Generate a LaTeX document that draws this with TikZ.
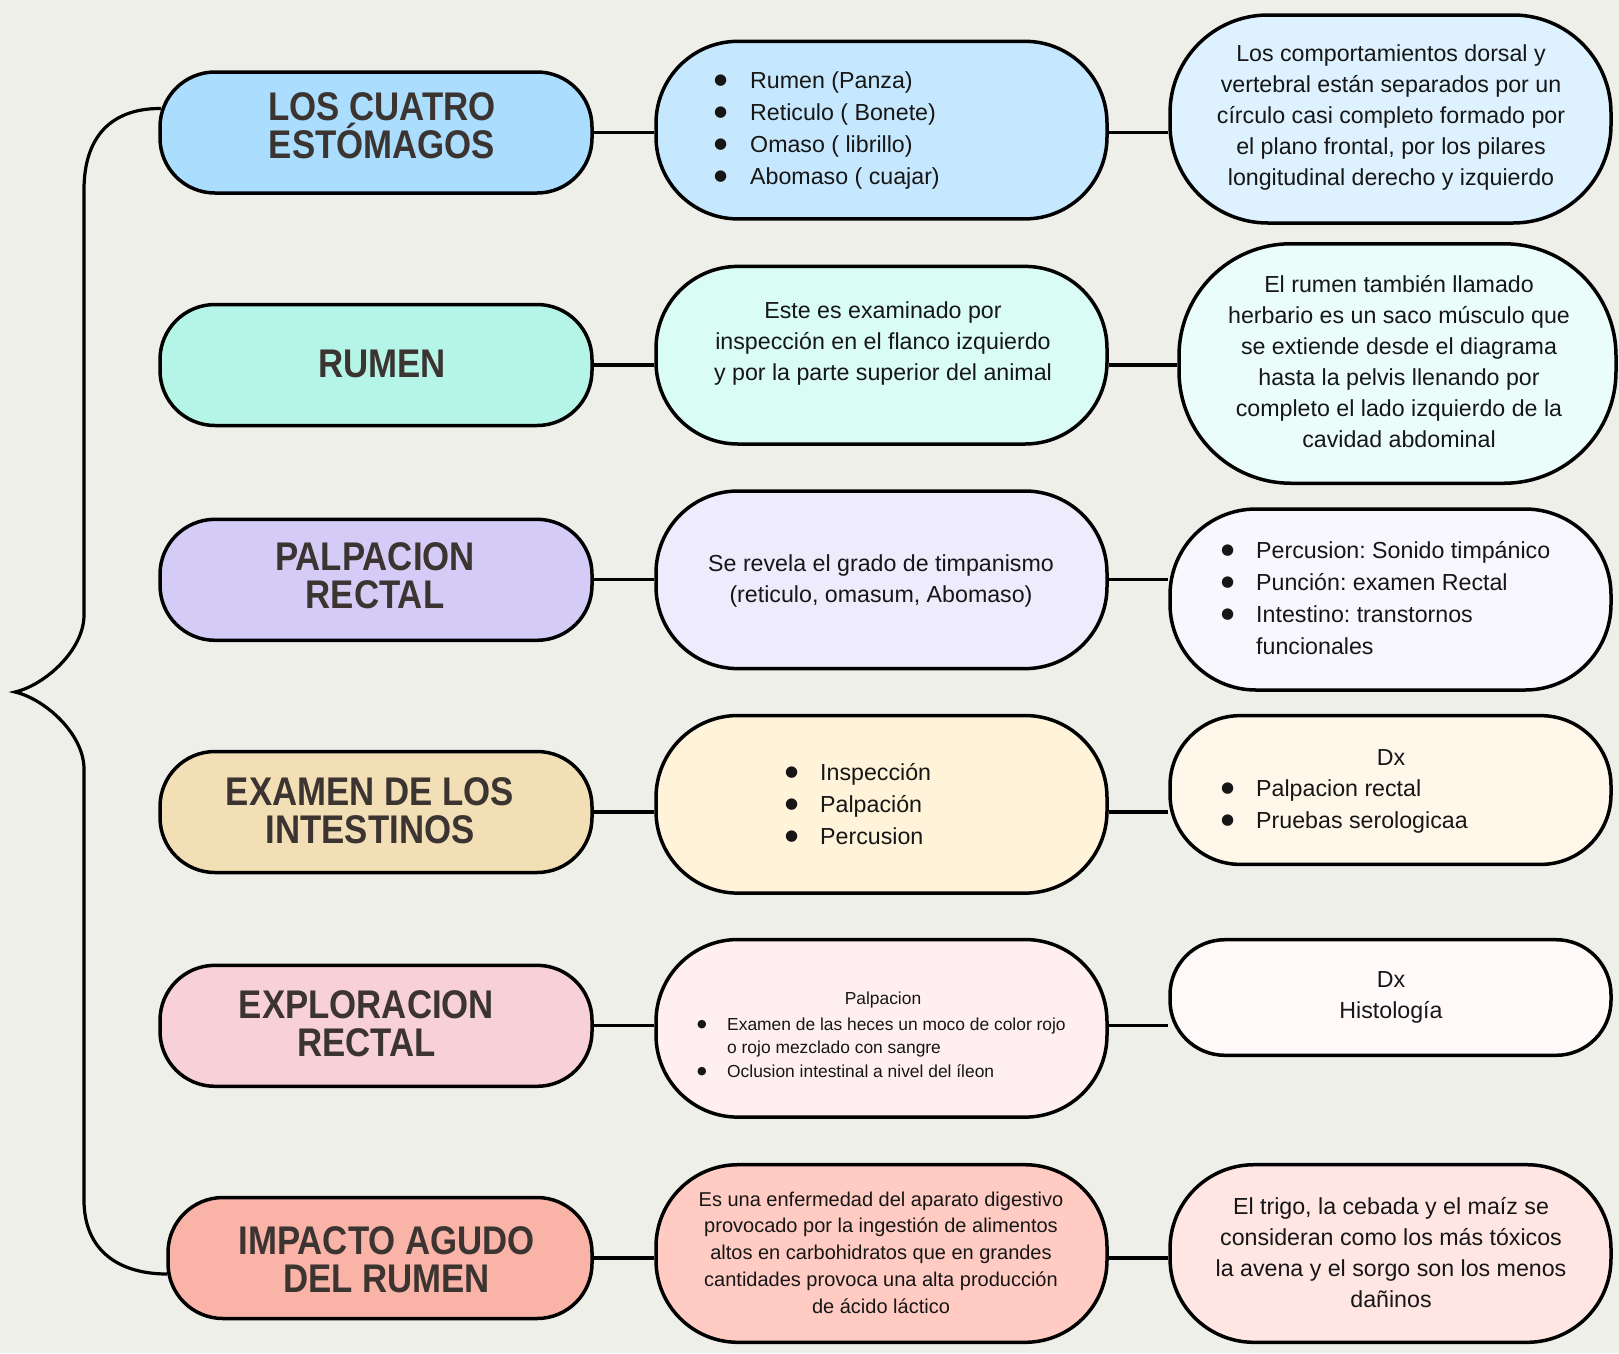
\documentclass[tikz,border=0pt]{standalone}
\usepackage{fontspec}
\setmainfont{Liberation Sans}
\newfontfamily\titlefont{Liberation Sans}[FakeStretch=0.87]
\newfontfamily\symfont{DejaVu Sans}
\usetikzlibrary{calc}
\pgfdeclarelayer{bg}
\pgfdeclarelayer{edges}
\pgfsetlayers{bg,edges,main}
\definecolor{bgc}{HTML}{EFEFEA}
\definecolor{titlec}{HTML}{3B3431}
\definecolor{bodyc}{HTML}{161616}
\definecolor{ta}{HTML}{AADDFE}
\definecolor{ma}{HTML}{C6E8FF}
\definecolor{ra}{HTML}{DDF1FF}
\definecolor{tb}{HTML}{B5F5E8}
\definecolor{mb}{HTML}{D9FCF4}
\definecolor{rb}{HTML}{EBFDFB}
\definecolor{tc}{HTML}{D4CCF7}
\definecolor{mc}{HTML}{EEEBFD}
\definecolor{rc}{HTML}{F8F7FE}
\definecolor{td}{HTML}{F3DFB5}
\definecolor{md}{HTML}{FFF3DA}
\definecolor{rd}{HTML}{FFF7EA}
\definecolor{te}{HTML}{F8D1D8}
\definecolor{me}{HTML}{FFEFF0}
\definecolor{re}{HTML}{FFF9F9}
\definecolor{tf}{HTML}{F9B3A7}
\definecolor{mf}{HTML}{FFCBC2}
\definecolor{rf}{HTML}{FFE6E3}
\frenchspacing
% bullet: width of box, size of glyph, raise
\newcommand\mybul[3]{\makebox[#1][l]{\hspace*{-1pt}\smash{\raisebox{#3}{\symfont\fontsize{#2}{#2}\selectfont ●}}}}
\tikzset{
  box/.style={draw=black, line width=3.5pt, inner sep=0pt, shape=rectangle},
  ttlbox/.style={box, minimum width=432pt, minimum height=121pt, rounded corners=55pt},
  midbox/.style={box, minimum width=451pt, minimum height=177.6pt, rounded corners=82pt},
  conn/.style={draw=black, line width=3.2pt},
  ttl/.style={font=\titlefont\bfseries\fontsize{40}{37.7}\selectfont, text=titlec, align=center, inner sep=0pt},
  body/.style={font=\frenchspacing\fontsize{23.2}{31}\selectfont, text=bodyc, align=center, inner sep=0pt},
  lst/.style={font=\frenchspacing\fontsize{23.2}{32}\selectfont, text=bodyc, align=left, anchor=west, inner sep=0pt},
}
\begin{document}
\begin{tikzpicture}[x=1pt,y=-1pt]
\begin{pgfonlayer}{bg}
\fill[bgc] (0,0) rectangle (1619,1353);
\end{pgfonlayer}
\useasboundingbox (0,0) rectangle (1619,1353);

% left column
\node[ttlbox, fill=ta] (t1) at (376,132.5) {};
\node[ttlbox, fill=tb] (t2) at (376,365) {};
\node[ttlbox, fill=tc] (t3) at (376,579.8) {};
\node[ttlbox, fill=td] (t4) at (376,812) {};
\node[ttlbox, fill=te] (t5) at (376,1025.8) {};
\node[ttlbox, fill=tf, minimum width=424pt] (t6) at (380,1258) {};

\node[ttl] (t1t) at (382,126) {LOS CUATRO\\ESTÓMAGOS};
\node[ttl] (t2t) at (382,364) {RUMEN};
\node[ttl] (t3t) at (375,576) {PALPACION\\RECTAL};
\node[ttl] (t4t) at (370,810.5) {EXAMEN DE LOS\\INTESTINOS};
\node[ttl] (t5t) at (366.5,1023.7) {EXPLORACION\\RECTAL};
\node[ttl] (t6t) at (386.7,1259.6) {IMPACTO AGUDO\\DEL RUMEN};

% middle column
\node[midbox, fill=ma] (m1) at (881.5,130.1) {};
\node[midbox, fill=mb] (m2) at (881.5,355.2) {};
\node[midbox, fill=mc] (m3) at (881.5,579.8) {};
\node[midbox, fill=md] (m4) at (881.5,804.3) {};
\node[midbox, fill=me] (m5) at (881.5,1028.3) {};
\node[midbox, fill=mf] (m6) at (881.5,1253.5) {};

\node[lst] (m1t) at (715,130) {\mybul{35pt}{15}{4pt}Rumen (Panza)\\\mybul{35pt}{15}{4pt}Reticulo ( Bonete)\\\mybul{35pt}{15}{4pt}Omaso ( librillo)\\\mybul{35pt}{15}{4pt}Abomaso ( cuajar)};
\node[body] (m2t) at (883,343.5) {Este es examinado por\\inspección en el flanco izquierdo\\y por la parte superior del animal};
\node[body] (m3t) at (881,581) {Se revela el grado de timpanismo\\(reticulo, omasum, Abomaso)};
\node[lst] (m4t) at (786,804.5) {\mybul{34pt}{15}{4pt}Inspección\\\mybul{34pt}{15}{4pt}Palpación\\\mybul{34pt}{15}{4pt}Percusion};
\node[body, font=\fontsize{17.4}{23.3}\selectfont] (m5h) at (883,1000) {Palpacion};
\node[lst, font=\fontsize{17.4}{23.3}\selectfont] (m5t) at (698,1047.5) {\mybul{29pt}{11}{3pt}Examen de las heces un moco de color rojo\\\hspace*{29pt}o rojo mezclado con sangre\\\mybul{29pt}{11}{3pt}Oclusion intestinal a nivel del íleon};
\node[body, font=\fontsize{20}{26.8}\selectfont] (m6t) at (881,1252.5) {Es una enfermedad del aparato digestivo\\provocado por la ingestión de alimentos\\altos en carbohidratos que en grandes\\cantidades provoca una alta producción\\de ácido láctico};

% right column
\node[box, fill=ra, minimum width=441pt, minimum height=208pt, rounded corners=98pt] (r1) at (1390.5,119) {};
\node[box, fill=rb, minimum width=437pt, minimum height=239.5pt, rounded corners=112pt] (r2) at (1397.5,363.5) {};
\node[box, fill=rc, minimum width=441pt, minimum height=181pt, rounded corners=86pt] (r3) at (1390.5,599.5) {};
\node[box, fill=rd, minimum width=441pt, minimum height=148.7pt, rounded corners=70pt] (r4) at (1390.5,790) {};
\node[box, fill=re, minimum width=441pt, minimum height=115.6pt, rounded corners=55pt] (r5) at (1390.5,997.5) {};
\node[box, fill=rf, minimum width=441pt, minimum height=177.6pt, rounded corners=84pt] (r6) at (1390.5,1253.5) {};

\node[body] (r1t) at (1391,117.5) {Los comportamientos dorsal y\\vertebral están separados por un\\círculo casi completo formado por\\el plano frontal, por los pilares\\longitudinal derecho y izquierdo};
\node[body] (r2t) at (1399,362) {El rumen también llamado\\herbario es un saco músculo que\\se extiende desde el diagrama\\hasta la pelvis llenando por\\completo el lado izquierdo de la\\cavidad abdominal};
\node[lst] (r3t) at (1222,598.5) {\mybul{34pt}{15}{4pt}Percusion: Sonido timpánico\\\mybul{34pt}{15}{4pt}Punción: examen Rectal\\\mybul{34pt}{15}{4pt}Intestino: transtornos\\\hspace*{34pt}funcionales};
\node[body] (r4h) at (1391,757.5) {Dx};
\node[lst] (r4t) at (1222,806.5) {\mybul{34pt}{15}{4pt}Palpacion rectal\\\mybul{34pt}{15}{4pt}Pruebas serologicaa};
\node[body] (r5t) at (1391,997) {Dx\\Histología};
\node[body] (r6t) at (1391,1252.5) {El trigo, la cebada y el maíz se\\consideran como los más tóxicos\\la avena y el sorgo son los menos\\dañinos};

% connectors
\begin{pgfonlayer}{edges}
\foreach \i in {1,...,6}{
  \draw[conn] (t\i.east) -- (t\i.east -| m\i.west);
  \draw[conn] (m\i.east |- t\i.east) -- (r\i.west |- t\i.east);
}
\coordinate (bt) at ($(t1.west)+(3,-24)$);
\coordinate (bb) at ($(t6.west)+(1,16)$);
\coordinate (tip) at (15,692);
\draw[conn] (bt) .. controls (118,108) and (84,130) .. (84,190) -- (84,615)
  .. controls (84,650) and (45,685) .. (tip)
  .. controls (45,699) and (84,734) .. (84,769) -- (84,1200)
  .. controls (84,1250) and (118,1274) .. (bb);
\end{pgfonlayer}
\end{tikzpicture}
\end{document}
